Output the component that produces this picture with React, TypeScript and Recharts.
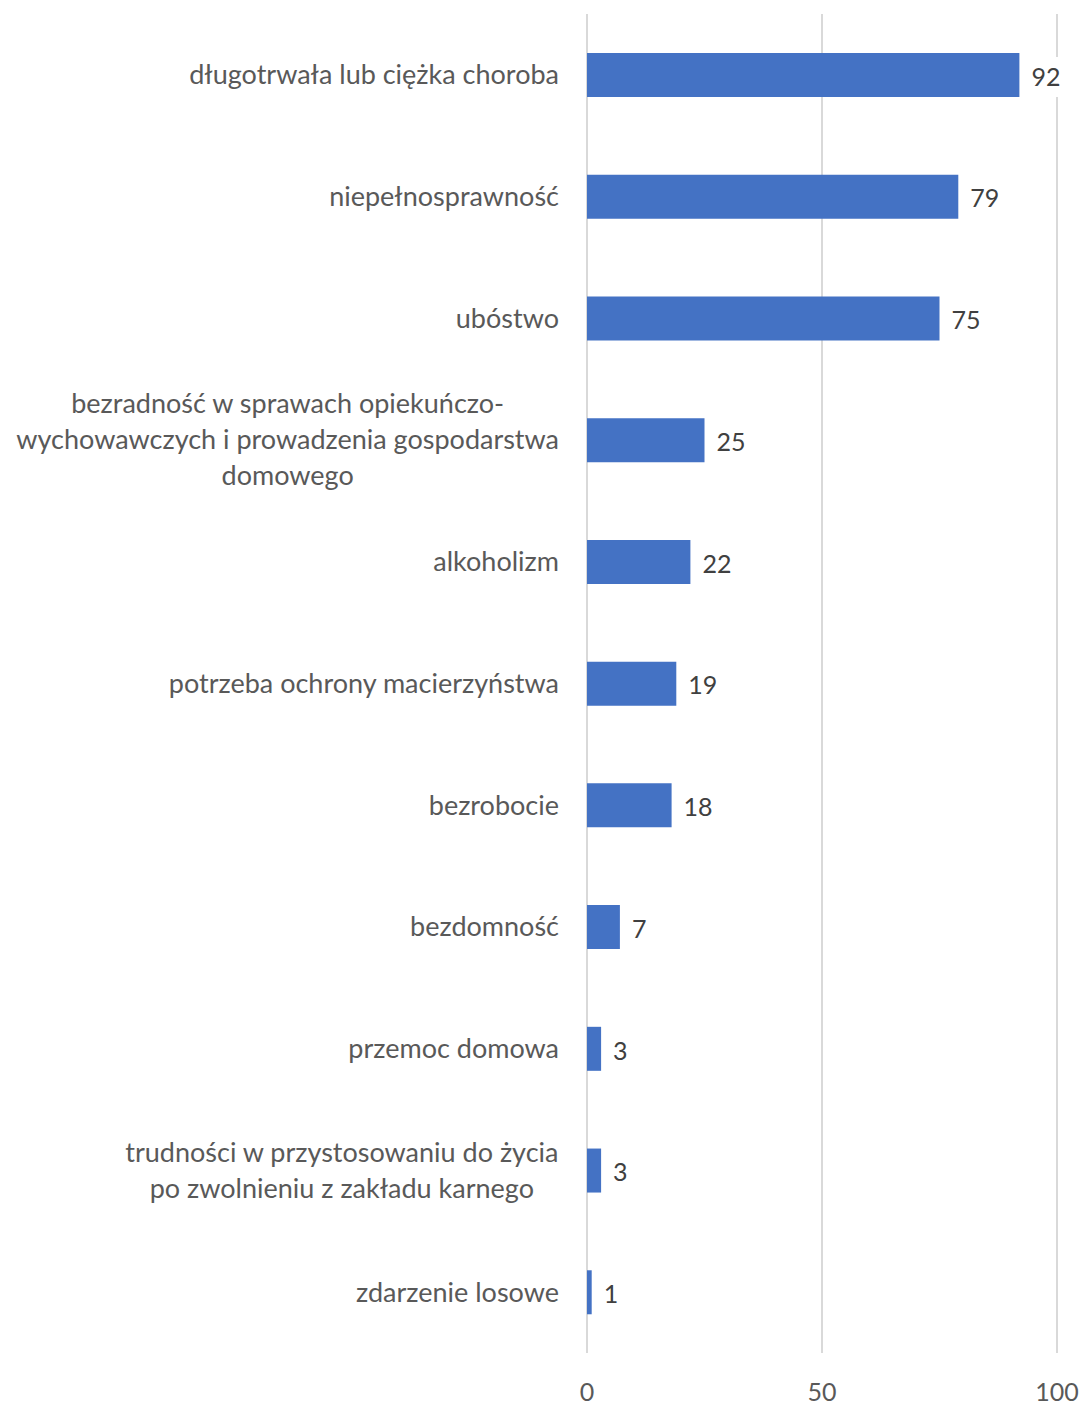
import React from "react";
import { BarChart, Bar, XAxis, YAxis, CartesianGrid, LabelList } from "recharts";

const categories: string[] = [
  "długotrwała lub ciężka choroba",
  "niepełnosprawność",
  "ubóstwo",
  "bezradność w sprawach opiekuńczo-wychowawczych i prowadzenia gospodarstwa domowego",
  "alkoholizm",
  "potrzeba ochrony macierzyństwa",
  "bezrobocie",
  "bezdomność",
  "przemoc domowa",
  "trudności w przystosowaniu do życia po zwolnieniu z zakładu karnego",
  "zdarzenie losowe",
];

const tickLines: string[][] = [
  ["długotrwała lub ciężka choroba"],
  ["niepełnosprawność"],
  ["ubóstwo"],
  ["bezradność w sprawach opiekuńczo-", "wychowawczych i prowadzenia gospodarstwa", "domowego"],
  ["alkoholizm"],
  ["potrzeba ochrony macierzyństwa"],
  ["bezrobocie"],
  ["bezdomność"],
  ["przemoc domowa"],
  ["trudności w przystosowaniu do życia", "po zwolnieniu z zakładu karnego"],
  ["zdarzenie losowe"],
];

const values: number[] = [92, 79, 75, 25, 22, 19, 18, 7, 3, 3, 1];

const xTicks: number[] = [0, 50, 100];

const data = categories.map((name, i) => ({ name, value: values[i], lines: tickLines[i] }));

const FONT = "Lato, 'Open Sans', sans-serif";
const FS_CAT = 27;
const FS = 25;
const LH = 36;

let canvasCtx: CanvasRenderingContext2D | null = null;
function measure(text: string, size: number): number {
  if (!canvasCtx) {
    const c = document.createElement("canvas");
    canvasCtx = c.getContext("2d");
  }
  if (!canvasCtx) return text.length * size * 0.5;
  canvasCtx.font = `${size}px Lato`;
  return canvasCtx.measureText(text).width;
}

const YTick = (props: any) => {
  const { y, payload } = props;
  const item = data.find((d) => d.name === payload.value);
  const lines = item ? item.lines : [String(payload.value)];
  const right = 559;
  const startY = y - ((lines.length - 1) * LH) / 2;
  if (lines.length === 1) {
    return (
      <text x={right} y={y} dy="0.35em" textAnchor="end" fill="#595959" fontSize={FS_CAT} fontFamily={FONT}>
        {lines[0]}
      </text>
    );
  }
  const maxW = Math.max(...lines.map((l) => measure(l, FS_CAT)));
  const cx = right - maxW / 2;
  return (
    <text textAnchor="middle" fill="#595959" fontSize={FS_CAT} fontFamily={FONT}>
      {lines.map((l, i) => (
        <tspan key={i} x={cx} y={startY + i * LH} dy="0.35em">
          {l}
        </tspan>
      ))}
    </text>
  );
};

const XTick = (props: any) => {
  const { x, payload } = props;
  return (
    <text x={x} y={1392} dy="0.35em" textAnchor="middle" fill="#595959" fontSize={FS} fontFamily={FONT}>
      {payload.value}
    </text>
  );
};

const ValueLabel = (props: any) => {
  const { x, y, width, height, value } = props;
  const tx = x + width + 12;
  const cy = y + height / 2 + 2;
  const w = measure(String(value), FS);
  return (
    <g>
      <rect x={tx - 2} y={cy - 20} width={w + 4} height={40} fill="#ffffff" />
      <text x={tx} y={cy} dy="0.35em" textAnchor="start" fill="#404040" fontSize={FS} fontFamily={FONT}>
        {value}
      </text>
    </g>
  );
};

export default function App() {
  return (
    <div style={{ position: "absolute", left: 0, top: 0, width: 1090, height: 1405, background: "#fff" }}>
      <BarChart
        width={1090}
        height={1405}
        data={data}
        layout="vertical"
        margin={{ top: 14, right: 33, bottom: 12, left: 0 }}
        barCategoryGap={0}
      >
        <CartesianGrid horizontal={false} vertical={true} stroke="#d9d9d9" strokeWidth={2} />
        <XAxis
          type="number"
          domain={[0, 100]}
          ticks={xTicks}
          axisLine={false}
          tickLine={false}
          height={40}
          tick={<XTick />}
          interval={0}
        />
        <YAxis
          type="category"
          dataKey="name"
          width={587}
          axisLine={false}
          tickLine={false}
          tick={<YTick />}
          interval={0}
        />
        <Bar dataKey="value" fill="#4472C4" barSize={44} isAnimationActive={false}>
          <LabelList dataKey="value" content={<ValueLabel />} />
        </Bar>
      </BarChart>
    </div>
  );
}
